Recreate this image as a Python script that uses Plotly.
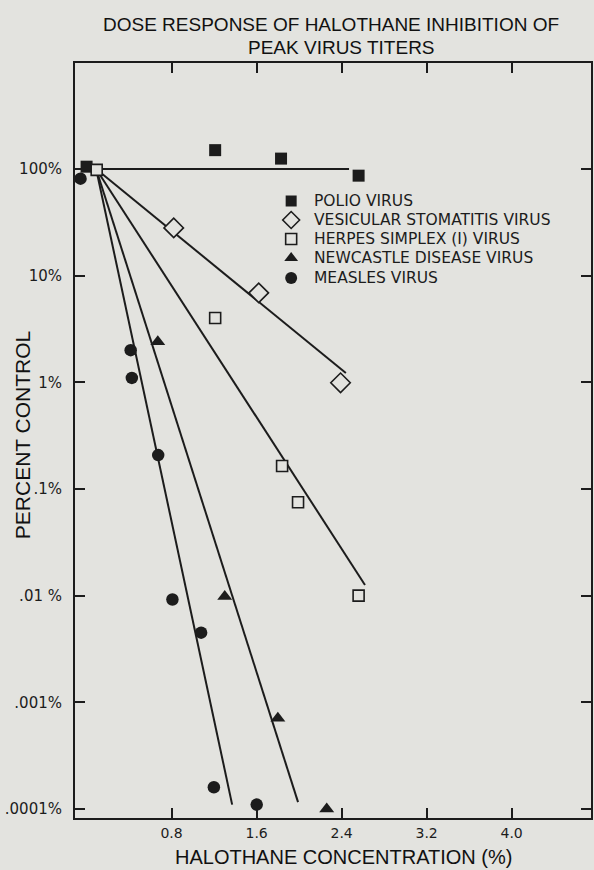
import plotly.graph_objects as go

# ---- data ----
polio_x = [0.0, 1.21, 1.83, 2.56]
polio_y = [105, 150, 125, 86.5]
vsv_x = [0.82, 1.62, 2.39]
vsv_y = [28, 6.9, 0.99]
hsv_x = [0.095, 1.21, 1.84, 1.99, 2.56]
hsv_y = [98, 4.0, 0.164, 0.075, 0.010]
ndv_x = [0.67, 1.30, 1.80, 2.26]
ndv_y = [2.4, 0.0098, 0.00071, 0.0001]
measles_x = [-0.057, 0.415, 0.426, 0.674, 0.808, 1.078, 1.198, 1.601]
measles_y = [81, 2.0, 1.1, 0.208, 0.0092, 0.0045, 0.00016, 0.00011]

# fitted dose-response lines (start, end)
polio_fit_x = [0.09, 2.47]
polio_fit_y = [100, 100]
vsv_fit_x = [0.09, 2.44]
vsv_fit_y = [100, 1.22]
hsv_fit_x = [0.09, 2.62]
hsv_fit_y = [100, 0.0126]
ndv_fit_x = [0.09, 1.99]
ndv_fit_y = [100, 0.000116]
measles_fit_x = [0.09, 1.37]
measles_fit_y = [100, 0.00011]

x_ticks = [0.8, 1.6, 2.4, 3.2, 4.0]
x_tick_labels = ["0.8", "1.6", "2.4", "3.2", "4.0"]
y_ticks = [100, 10, 1, 0.1, 0.01, 0.001, 0.0001]
y_tick_labels = ["100%", "10%", "1%", ".1%", ".01 %", ".001%", ".0001%"]

names = ["POLIO VIRUS", "VESICULAR STOMATITIS VIRUS", "HERPES SIMPLEX (I) VIRUS",
         "NEWCASTLE DISEASE VIRUS", "MEASLES VIRUS"]

BG = "#e3e3df"
INK = "#1c1c1c"
LETTER = "DejaVu Sans, Liberation Sans, Arial"
HELV = "Liberation Sans, Arial, Helvetica"

# plot-area geometry (pixels) used to place the hand-drawn legend and titles
L, T, W, H = 75, 63, 518, 755


def px_x(p):
    return (p - L) / W


def px_y(p):
    return (T + H - p) / H


fig = go.Figure()

# fit lines
for fx, fy in [(polio_fit_x, polio_fit_y), (vsv_fit_x, vsv_fit_y), (hsv_fit_x, hsv_fit_y),
               (ndv_fit_x, ndv_fit_y), (measles_fit_x, measles_fit_y)]:
    fig.add_trace(go.Scatter(x=fx, y=fy, mode="lines", showlegend=False,
                             line=dict(color=INK, width=2), hoverinfo="skip"))

markers = [
    dict(symbol="square", size=12, color=INK, line=dict(width=0)),
    dict(symbol="diamond", size=15, color=BG, line=dict(color=INK, width=1.6)),
    dict(symbol="square", size=11, color=BG, line=dict(color=INK, width=1.6)),
    dict(symbol="triangle-up", size=13, color=INK, line=dict(width=0)),
    dict(symbol="circle", size=12.5, color=INK, line=dict(width=0)),
]
series = [(polio_x, polio_y), (vsv_x, vsv_y), (hsv_x, hsv_y), (ndv_x, ndv_y), (measles_x, measles_y)]
for (sx, sy), mk, nm in zip(series, markers, names):
    fig.add_trace(go.Scatter(x=sx, y=sy, mode="markers", name=nm, marker=mk, showlegend=False))

# hand-drawn key (legend) on an invisible overlay axis in plot-fraction units
legend_rows_px = [201, 220, 239, 258, 278]
legend_marker_px = 292
legend_text_px = 313
legend_sizes = [11, 13, 11, 12, 12]
for i, (mk, nm) in enumerate(zip(markers, names)):
    m = dict(mk)
    m["size"] = legend_sizes[i]
    fig.add_trace(go.Scatter(x=[px_x(legend_marker_px)], y=[px_y(legend_rows_px[i])],
                             mode="markers", marker=m, xaxis="x2", yaxis="y2",
                             showlegend=False, hoverinfo="skip"))

axis_common = dict(showline=True, linecolor=INK, linewidth=2, mirror="ticks",
                   ticks="inside", ticklen=10, tickwidth=2, tickcolor=INK,
                   showgrid=False, zeroline=False)

annotations = [
    dict(text="DOSE RESPONSE OF HALOTHANE INHIBITION OF", xref="paper", yref="paper",
         x=px_x(332), y=px_y(24), xanchor="center", yanchor="middle",
         showarrow=False, font=dict(family=HELV, size=19, color="#111111")),
    dict(text="PEAK VIRUS TITERS", xref="paper", yref="paper",
         x=px_x(343), y=px_y(47), xanchor="center", yanchor="middle",
         showarrow=False, font=dict(family=HELV, size=19, color="#111111")),
    dict(text="HALOTHANE CONCENTRATION (%)", xref="paper", yref="paper",
         x=px_x(345), y=px_y(857), xanchor="center", yanchor="middle",
         showarrow=False, font=dict(family=HELV, size=20, color="#111111")),
    dict(text="PERCENT CONTROL", xref="paper", yref="paper", textangle=-90,
         x=px_x(22), y=px_y(435), xanchor="center", yanchor="middle",
         showarrow=False, font=dict(family=HELV, size=21, color="#111111")),
]
for i, nm in enumerate(names):
    annotations.append(dict(text=nm, xref="paper", yref="paper",
                            x=px_x(legend_text_px), y=px_y(legend_rows_px[i]),
                            xanchor="left", yanchor="middle", showarrow=False,
                            font=dict(family=LETTER, size=15.5, color=INK)))

fig.update_layout(
    width=594, height=870,
    margin=dict(l=L, r=594 - L - W, t=T, b=870 - T - H),
    paper_bgcolor=BG, plot_bgcolor=BG,
    showlegend=False,
    xaxis=dict(range=[-0.109, 4.747], tickvals=x_ticks, ticktext=x_tick_labels,
               ticklabelstandoff=1, tickfont=dict(family=LETTER, size=14, color=INK),
               **axis_common),
    yaxis=dict(type="log", range=[-4.084, 2.993], tickvals=y_ticks, ticktext=y_tick_labels,
               ticklabelstandoff=8, tickfont=dict(family=LETTER, size=15, color=INK),
               **axis_common),
    xaxis2=dict(overlaying="x", range=[0, 1], visible=False, anchor="y2"),
    yaxis2=dict(overlaying="y", range=[0, 1], visible=False, anchor="x2"),
    annotations=annotations,
)

fig.write_html("out.html", config={"displayModeBar": False},
               post_script="document.body.style.margin='0px';document.body.style.padding='0px';"
                           "document.body.style.overflow='hidden';")
